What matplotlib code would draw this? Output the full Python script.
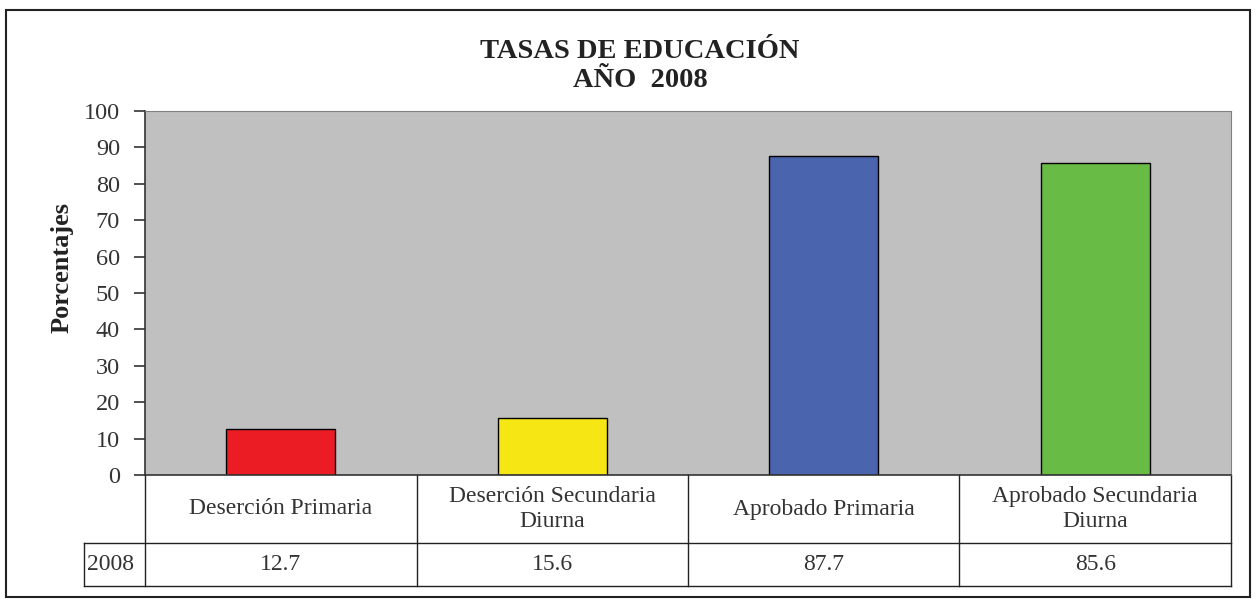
import matplotlib.pyplot as plt
from matplotlib.patches import Rectangle
from matplotlib.lines import Line2D
import matplotlib.transforms as mtransforms

plt.rcParams['font.family'] = ['Liberation Serif', 'DejaVu Serif']

categorias = ["Deserción Primaria", "Deserción Secundaria\nDiurna",
              "Aprobado Primaria", "Aprobado Secundaria\nDiurna"]
valores = [12.7, 15.6, 87.7, 85.6]
etiquetas_valor = ["12.7", "15.6", "87.7", "85.6"]
colores = ["#ec1c24", "#f5e614", "#4a64ae", "#68bb45"]
serie = "2008"

W, H = 1257, 605
fig = plt.figure(figsize=(W / 100, H / 100), dpi=100)

# marco exterior
fig.patches.append(Rectangle((6 / W, 1 - 597 / H), (1250 - 6) / W, (597 - 10) / H,
                             transform=fig.transFigure, fill=False,
                             edgecolor="#222222", linewidth=1.5))

ax = fig.add_axes([145 / W, 1 - 475 / H, (1231 - 145) / W, (475 - 111) / H])
ax.set_facecolor("#c0c0c0")
x = range(len(valores))
ax.bar(x, valores, width=0.40, color=colores, edgecolor="black", linewidth=1.0)
ax.set_xlim(-0.5, len(valores) - 0.5)
ax.set_ylim(0, 100)
ax.set_yticks(range(0, 101, 10))
ax.tick_params(axis='y', direction='out', length=8, width=1.2, labelsize=17.5,
               colors="#333333", labelcolor="#333333", pad=10)
ax.set_xticks([])
for s in ["top", "right"]:
    ax.spines[s].set_color("#808080")
    ax.spines[s].set_linewidth(0.8)
ax.spines["left"].set_color("#333333")
ax.spines["left"].set_linewidth(1.2)
ax.spines["bottom"].set_color("#333333")
ax.spines["bottom"].set_linewidth(1.2)

# tabla de datos debajo
tr = mtransforms.blended_transform_factory(ax.transData, ax.transAxes)
y_cab = -(543 - 475) / 364
y_val = -(586 - 475) / 364
x_izq = -0.5 + (84 - 145) / 271.5
n = len(valores)
lw = 1.0
lineas = [
    ((-0.5, -0.5), (0, y_val)),
    ((n - 0.5, n - 0.5), (0, y_val)),
    ((x_izq, n - 0.5), (y_cab, y_cab)),
    ((x_izq, n - 0.5), (y_val, y_val)),
    ((x_izq, x_izq), (y_cab, y_val)),
]
for i in range(1, n):
    lineas.append(((i - 0.5, i - 0.5), (0, y_val)))
for xs, ys in lineas:
    ax.add_line(Line2D(xs, ys, transform=tr, color="#222222", linewidth=lw,
                       clip_on=False))

for i, (cat, v) in enumerate(zip(categorias, etiquetas_valor)):
    ax.text(i, y_cab / 2, cat, transform=tr, ha="center", va="center",
            fontsize=17, color="#333333", linespacing=1.2)
    ax.text(i, (y_cab + y_val) / 2, v, transform=tr, ha="center", va="center",
            fontsize=17, color="#333333")
ax.text(x_izq + 0.01, (y_cab + y_val) / 2, serie, transform=tr,
        ha="left", va="center", fontsize=17, color="#333333")

fig.text(640 / W, 1 - 66 / H, "TASAS DE EDUCACIÓN\nAÑO  2008", ha="center",
         va="center", fontsize=20.5, fontweight="bold", color="#222222",
         linespacing=1.25)
fig.text(62 / W, 1 - 268 / H, "Porcentajes", rotation=90, ha="center",
         va="center", fontsize=19, fontweight="bold", color="#222222")

fig.savefig("out.png", dpi=100, facecolor="white")
